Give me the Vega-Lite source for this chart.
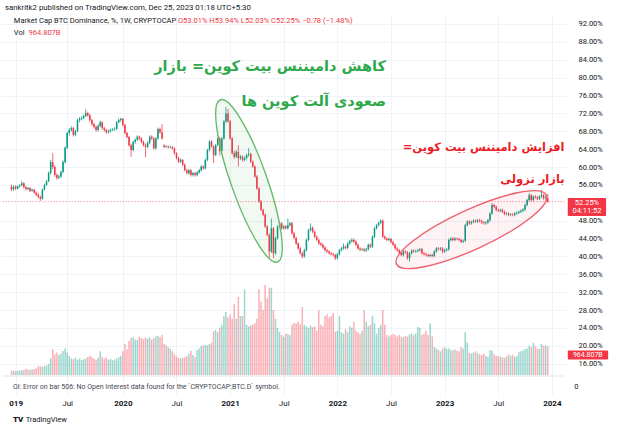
{
"$schema":"https://vega.github.io/schema/vega-lite/v6.json",
"width":566,"height":380,"autosize":"none",
"padding":{"left":0,"top":15,"right":58,"bottom":33},
"background":"white",
"config":{"view":{"stroke":null},"font":"Roboto"},
"title":{"text":"sankritk2 published on TradingView.com, Dec 25, 2023 01:18 UTC+5:30","anchor":"start","frame":"group","fontSize":7.8,"fontWeight":"normal","color":"#131722","offset":3,"dx":5},
"datasets":{"btc":[
{"d":"2018-12-31","o":55.6,"h":56.1,"l":54.6,"c":55.0,"v":150},
{"d":"2019-01-07","o":55.0,"h":55.9,"l":54.7,"c":55.6,"v":140},
{"d":"2019-01-14","o":55.6,"h":55.9,"l":54.9,"c":55.2,"v":130},
{"d":"2019-01-21","o":55.2,"h":55.9,"l":55.0,"c":55.7,"v":140},
{"d":"2019-01-28","o":55.7,"h":56.2,"l":55.4,"c":55.9,"v":150},
{"d":"2019-02-04","o":55.9,"h":56.8,"l":55.7,"c":56.4,"v":160},
{"d":"2019-02-11","o":56.4,"h":56.6,"l":55.2,"c":55.5,"v":170},
{"d":"2019-02-18","o":55.5,"h":55.8,"l":54.7,"c":55.1,"v":210},
{"d":"2019-02-25","o":55.1,"h":55.6,"l":54.8,"c":55.3,"v":180},
{"d":"2019-03-04","o":55.3,"h":55.5,"l":54.4,"c":54.7,"v":170},
{"d":"2019-03-11","o":54.7,"h":55.2,"l":54.5,"c":54.9,"v":190},
{"d":"2019-03-18","o":54.9,"h":55.1,"l":54.0,"c":54.3,"v":200},
{"d":"2019-03-25","o":54.3,"h":54.6,"l":53.5,"c":53.8,"v":230},
{"d":"2019-04-01","o":53.8,"h":54.2,"l":53.0,"c":53.3,"v":300},
{"d":"2019-04-08","o":53.3,"h":53.6,"l":52.4,"c":52.9,"v":290},
{"d":"2019-04-15","o":52.9,"h":55.2,"l":52.7,"c":55.0,"v":280},
{"d":"2019-04-22","o":55.0,"h":56.3,"l":54.8,"c":56.0,"v":300},
{"d":"2019-04-29","o":56.0,"h":57.1,"l":55.8,"c":56.8,"v":330},
{"d":"2019-05-06","o":56.8,"h":59.0,"l":56.6,"c":58.7,"v":380},
{"d":"2019-05-13","o":58.7,"h":61.6,"l":58.3,"c":61.1,"v":560},
{"d":"2019-05-20","o":61.1,"h":63.1,"l":59.5,"c":60.0,"v":880},
{"d":"2019-05-27","o":60.0,"h":60.4,"l":57.8,"c":58.2,"v":700},
{"d":"2019-06-03","o":58.2,"h":58.6,"l":57.2,"c":57.6,"v":760},
{"d":"2019-06-10","o":57.6,"h":58.3,"l":57.3,"c":57.9,"v":680},
{"d":"2019-06-17","o":57.9,"h":59.2,"l":57.6,"c":58.9,"v":720},
{"d":"2019-06-24","o":58.9,"h":61.5,"l":58.6,"c":61.1,"v":810},
{"d":"2019-07-01","o":61.1,"h":64.6,"l":60.8,"c":64.3,"v":900},
{"d":"2019-07-08","o":64.3,"h":67.9,"l":64.0,"c":67.6,"v":760},
{"d":"2019-07-15","o":67.6,"h":68.7,"l":67.0,"c":68.3,"v":640},
{"d":"2019-07-22","o":68.3,"h":69.1,"l":67.9,"c":68.7,"v":560},
{"d":"2019-07-29","o":68.7,"h":69.0,"l":66.8,"c":67.2,"v":540},
{"d":"2019-08-05","o":67.2,"h":68.3,"l":66.9,"c":68.0,"v":590},
{"d":"2019-08-12","o":68.0,"h":70.8,"l":67.8,"c":70.5,"v":520},
{"d":"2019-08-19","o":70.5,"h":71.2,"l":70.0,"c":70.8,"v":560},
{"d":"2019-08-26","o":70.8,"h":71.4,"l":70.4,"c":71.0,"v":510},
{"d":"2019-09-02","o":71.0,"h":71.8,"l":70.7,"c":71.4,"v":530},
{"d":"2019-09-09","o":71.4,"h":72.9,"l":71.2,"c":72.1,"v":560},
{"d":"2019-09-16","o":72.1,"h":72.4,"l":71.2,"c":71.6,"v":610},
{"d":"2019-09-23","o":71.6,"h":71.9,"l":70.1,"c":70.5,"v":650},
{"d":"2019-09-30","o":70.5,"h":70.8,"l":69.2,"c":69.6,"v":600},
{"d":"2019-10-07","o":69.6,"h":69.9,"l":68.6,"c":69.0,"v":560},
{"d":"2019-10-14","o":69.0,"h":69.3,"l":67.9,"c":68.3,"v":520},
{"d":"2019-10-21","o":68.3,"h":69.6,"l":68.0,"c":69.2,"v":580},
{"d":"2019-10-28","o":69.2,"h":70.4,"l":68.9,"c":70.0,"v":800},
{"d":"2019-11-04","o":70.0,"h":70.2,"l":68.4,"c":68.7,"v":620},
{"d":"2019-11-11","o":68.7,"h":69.0,"l":67.9,"c":68.3,"v":560},
{"d":"2019-11-18","o":68.3,"h":68.5,"l":67.4,"c":67.8,"v":590},
{"d":"2019-11-25","o":67.8,"h":68.4,"l":67.5,"c":68.0,"v":520},
{"d":"2019-12-02","o":68.0,"h":68.6,"l":67.7,"c":68.3,"v":540},
{"d":"2019-12-09","o":68.3,"h":68.7,"l":68.0,"c":68.4,"v":500},
{"d":"2019-12-16","o":68.4,"h":68.9,"l":68.1,"c":68.5,"v":520},
{"d":"2019-12-23","o":68.5,"h":70.3,"l":68.3,"c":70.0,"v":560},
{"d":"2019-12-30","o":70.0,"h":70.9,"l":69.8,"c":70.5,"v":600},
{"d":"2020-01-06","o":70.5,"h":71.0,"l":70.1,"c":70.8,"v":650},
{"d":"2020-01-13","o":70.8,"h":71.0,"l":69.1,"c":69.4,"v":800},
{"d":"2020-01-20","o":69.4,"h":69.7,"l":67.3,"c":67.6,"v":1050},
{"d":"2020-01-27","o":67.6,"h":67.9,"l":66.4,"c":66.7,"v":870},
{"d":"2020-02-03","o":66.7,"h":67.0,"l":64.6,"c":64.9,"v":1150},
{"d":"2020-02-10","o":64.9,"h":65.2,"l":62.3,"c":63.8,"v":1250},
{"d":"2020-02-17","o":63.8,"h":65.9,"l":63.5,"c":65.6,"v":1280},
{"d":"2020-02-24","o":65.6,"h":66.4,"l":65.2,"c":66.1,"v":1200},
{"d":"2020-03-02","o":66.1,"h":67.1,"l":65.8,"c":66.8,"v":1180},
{"d":"2020-03-09","o":66.8,"h":67.0,"l":66.0,"c":66.4,"v":1300},
{"d":"2020-03-16","o":66.4,"h":66.7,"l":65.3,"c":65.6,"v":1250},
{"d":"2020-03-23","o":65.6,"h":65.9,"l":64.6,"c":64.9,"v":1210},
{"d":"2020-03-30","o":64.9,"h":65.3,"l":62.2,"c":64.5,"v":1260},
{"d":"2020-04-06","o":64.5,"h":65.8,"l":64.2,"c":65.4,"v":1230},
{"d":"2020-04-13","o":65.4,"h":67.1,"l":65.1,"c":66.8,"v":1280},
{"d":"2020-04-20","o":66.8,"h":67.1,"l":66.0,"c":66.4,"v":1200},
{"d":"2020-04-27","o":66.4,"h":66.7,"l":63.9,"c":64.2,"v":1240},
{"d":"2020-05-04","o":64.2,"h":66.7,"l":63.9,"c":66.4,"v":1310},
{"d":"2020-05-11","o":66.4,"h":68.8,"l":66.1,"c":68.5,"v":1330},
{"d":"2020-05-18","o":68.5,"h":68.8,"l":67.5,"c":67.8,"v":1290},
{"d":"2020-05-25","o":67.8,"h":69.6,"l":66.1,"c":66.4,"v":1350},
{"d":"2020-06-01","o":64.8,"h":65.1,"l":64.2,"c":64.5,"v":1050},
{"d":"2020-06-08","o":64.5,"h":64.9,"l":64.3,"c":64.6,"v":1000},
{"d":"2020-06-15","o":64.6,"h":64.8,"l":64.1,"c":64.4,"v":950},
{"d":"2020-06-22","o":64.4,"h":64.8,"l":64.2,"c":64.5,"v":880},
{"d":"2020-06-29","o":64.5,"h":64.7,"l":63.9,"c":64.2,"v":800},
{"d":"2020-07-06","o":64.2,"h":64.4,"l":62.8,"c":63.1,"v":700},
{"d":"2020-07-13","o":63.1,"h":63.3,"l":61.7,"c":62.0,"v":620},
{"d":"2020-07-20","o":62.0,"h":62.3,"l":60.9,"c":61.2,"v":580},
{"d":"2020-07-27","o":61.2,"h":61.9,"l":60.9,"c":61.6,"v":560},
{"d":"2020-08-03","o":61.6,"h":61.8,"l":60.2,"c":60.5,"v":580},
{"d":"2020-08-10","o":60.5,"h":60.8,"l":59.0,"c":59.3,"v":600},
{"d":"2020-08-17","o":59.3,"h":59.6,"l":58.3,"c":58.6,"v":640},
{"d":"2020-08-24","o":58.6,"h":59.6,"l":58.3,"c":59.3,"v":720},
{"d":"2020-08-31","o":59.3,"h":59.5,"l":57.9,"c":58.2,"v":820},
{"d":"2020-09-07","o":58.2,"h":58.9,"l":57.9,"c":58.6,"v":680},
{"d":"2020-09-14","o":58.6,"h":58.9,"l":57.9,"c":58.2,"v":600},
{"d":"2020-09-21","o":58.2,"h":59.1,"l":57.9,"c":58.8,"v":850},
{"d":"2020-09-28","o":58.8,"h":59.6,"l":58.5,"c":59.3,"v":900},
{"d":"2020-10-05","o":59.3,"h":60.4,"l":59.0,"c":60.1,"v":980},
{"d":"2020-10-12","o":60.1,"h":60.4,"l":59.4,"c":59.7,"v":1000},
{"d":"2020-10-19","o":59.7,"h":61.9,"l":59.4,"c":61.6,"v":1020},
{"d":"2020-10-26","o":61.6,"h":64.1,"l":61.3,"c":63.8,"v":1000},
{"d":"2020-11-02","o":63.8,"h":66.0,"l":63.5,"c":65.7,"v":1050},
{"d":"2020-11-09","o":65.7,"h":66.0,"l":64.3,"c":64.6,"v":1100},
{"d":"2020-11-16","o":64.6,"h":64.9,"l":60.9,"c":62.7,"v":1480},
{"d":"2020-11-23","o":62.7,"h":65.2,"l":62.4,"c":64.9,"v":1520},
{"d":"2020-11-30","o":64.9,"h":66.7,"l":64.6,"c":66.4,"v":1450},
{"d":"2020-12-07","o":66.4,"h":66.7,"l":62.6,"c":63.6,"v":1600},
{"d":"2020-12-14","o":63.6,"h":66.7,"l":63.3,"c":66.4,"v":1700},
{"d":"2020-12-21","o":66.4,"h":70.5,"l":66.1,"c":70.2,"v":2000},
{"d":"2020-12-28","o":70.2,"h":73.5,"l":69.9,"c":72.0,"v":2130},
{"d":"2021-01-04","o":72.0,"h":73.0,"l":69.9,"c":70.2,"v":1950},
{"d":"2021-01-11","o":70.2,"h":70.5,"l":66.1,"c":66.4,"v":2050},
{"d":"2021-01-18","o":66.4,"h":66.7,"l":62.8,"c":63.1,"v":1900},
{"d":"2021-01-25","o":63.1,"h":63.6,"l":61.8,"c":62.3,"v":2400},
{"d":"2021-02-01","o":62.3,"h":63.8,"l":62.0,"c":63.4,"v":1900},
{"d":"2021-02-08","o":63.4,"h":64.9,"l":60.1,"c":62.0,"v":2640},
{"d":"2021-02-15","o":62.0,"h":62.7,"l":61.6,"c":62.3,"v":2000},
{"d":"2021-02-22","o":62.3,"h":62.6,"l":61.2,"c":61.6,"v":2000},
{"d":"2021-03-01","o":61.6,"h":62.4,"l":61.3,"c":62.0,"v":2900},
{"d":"2021-03-08","o":62.0,"h":63.0,"l":61.7,"c":62.7,"v":1700},
{"d":"2021-03-15","o":62.7,"h":64.2,"l":62.3,"c":62.9,"v":1650},
{"d":"2021-03-22","o":62.9,"h":63.2,"l":60.9,"c":61.2,"v":1680},
{"d":"2021-03-29","o":61.2,"h":61.5,"l":59.8,"c":60.1,"v":1700},
{"d":"2021-04-05","o":60.1,"h":60.4,"l":57.6,"c":57.9,"v":1750},
{"d":"2021-04-12","o":57.9,"h":58.2,"l":54.9,"c":55.2,"v":1900},
{"d":"2021-04-19","o":55.2,"h":55.5,"l":52.0,"c":52.3,"v":2900},
{"d":"2021-04-26","o":52.3,"h":52.6,"l":50.1,"c":50.4,"v":2490},
{"d":"2021-05-03","o":50.4,"h":50.7,"l":49.0,"c":49.3,"v":2200},
{"d":"2021-05-10","o":49.3,"h":49.6,"l":46.4,"c":46.7,"v":3050},
{"d":"2021-05-17","o":46.7,"h":47.0,"l":44.5,"c":44.8,"v":2600},
{"d":"2021-05-24","o":44.8,"h":45.1,"l":39.6,"c":41.1,"v":2950},
{"d":"2021-05-31","o":41.1,"h":48.5,"l":40.8,"c":46.3,"v":2950},
{"d":"2021-06-07","o":46.3,"h":46.6,"l":39.6,"c":40.7,"v":2200},
{"d":"2021-06-14","o":40.7,"h":44.4,"l":40.4,"c":44.1,"v":1900},
{"d":"2021-06-21","o":44.1,"h":47.0,"l":43.8,"c":46.7,"v":1600},
{"d":"2021-06-28","o":46.7,"h":47.7,"l":46.4,"c":47.4,"v":1450},
{"d":"2021-07-05","o":47.4,"h":47.7,"l":46.0,"c":46.3,"v":1350},
{"d":"2021-07-12","o":46.3,"h":47.0,"l":46.0,"c":46.7,"v":1300},
{"d":"2021-07-19","o":46.7,"h":47.0,"l":46.0,"c":46.3,"v":1400},
{"d":"2021-07-26","o":46.3,"h":48.5,"l":46.0,"c":47.0,"v":1380},
{"d":"2021-08-02","o":47.0,"h":47.7,"l":46.7,"c":47.4,"v":1350},
{"d":"2021-08-09","o":47.4,"h":47.7,"l":44.9,"c":45.2,"v":1700},
{"d":"2021-08-16","o":45.2,"h":45.5,"l":43.8,"c":44.1,"v":1760},
{"d":"2021-08-23","o":44.1,"h":44.4,"l":42.6,"c":42.9,"v":1750},
{"d":"2021-08-30","o":42.9,"h":43.2,"l":41.5,"c":41.8,"v":1800},
{"d":"2021-09-06","o":41.8,"h":42.1,"l":40.4,"c":40.7,"v":1720},
{"d":"2021-09-13","o":40.7,"h":41.0,"l":39.6,"c":40.0,"v":2300},
{"d":"2021-09-20","o":40.0,"h":41.7,"l":39.7,"c":41.4,"v":1700},
{"d":"2021-09-27","o":41.4,"h":44.0,"l":41.1,"c":43.7,"v":1650},
{"d":"2021-10-04","o":43.7,"h":46.2,"l":43.4,"c":45.9,"v":1600},
{"d":"2021-10-11","o":45.9,"h":47.4,"l":45.6,"c":46.4,"v":1680},
{"d":"2021-10-18","o":46.4,"h":46.7,"l":45.2,"c":45.5,"v":1620},
{"d":"2021-10-25","o":45.5,"h":45.8,"l":44.1,"c":44.4,"v":1650},
{"d":"2021-11-01","o":44.4,"h":44.7,"l":43.4,"c":43.7,"v":1500},
{"d":"2021-11-08","o":43.7,"h":44.0,"l":42.6,"c":42.9,"v":2190},
{"d":"2021-11-15","o":42.9,"h":43.2,"l":42.3,"c":42.6,"v":1700},
{"d":"2021-11-22","o":42.6,"h":42.9,"l":41.7,"c":42.0,"v":1650},
{"d":"2021-11-29","o":42.0,"h":42.3,"l":41.1,"c":41.4,"v":2000},
{"d":"2021-12-06","o":41.4,"h":41.7,"l":40.8,"c":41.1,"v":2050},
{"d":"2021-12-13","o":41.1,"h":41.4,"l":40.4,"c":40.7,"v":1950},
{"d":"2021-12-20","o":40.7,"h":41.0,"l":40.2,"c":40.5,"v":2000},
{"d":"2021-12-27","o":40.5,"h":40.8,"l":40.0,"c":40.3,"v":2100},
{"d":"2022-01-03","o":40.3,"h":40.6,"l":39.2,"c":39.6,"v":1470},
{"d":"2022-01-10","o":39.6,"h":40.8,"l":39.3,"c":40.5,"v":1500},
{"d":"2022-01-17","o":40.5,"h":41.7,"l":40.2,"c":41.4,"v":2000},
{"d":"2022-01-24","o":41.4,"h":42.1,"l":41.1,"c":41.8,"v":1450},
{"d":"2022-01-31","o":41.8,"h":42.9,"l":41.5,"c":42.2,"v":1400},
{"d":"2022-02-07","o":42.2,"h":42.5,"l":41.6,"c":41.9,"v":1550},
{"d":"2022-02-14","o":41.9,"h":43.2,"l":41.6,"c":42.9,"v":1450},
{"d":"2022-02-21","o":42.9,"h":43.7,"l":42.6,"c":43.4,"v":1650},
{"d":"2022-02-28","o":43.4,"h":44.1,"l":43.1,"c":43.7,"v":1600},
{"d":"2022-03-07","o":43.7,"h":44.0,"l":43.0,"c":43.3,"v":1800},
{"d":"2022-03-14","o":43.3,"h":43.6,"l":42.3,"c":42.6,"v":1500},
{"d":"2022-03-21","o":42.6,"h":42.9,"l":41.5,"c":41.8,"v":1450},
{"d":"2022-03-28","o":41.8,"h":42.1,"l":41.2,"c":41.5,"v":1400},
{"d":"2022-04-04","o":41.5,"h":41.9,"l":41.2,"c":41.6,"v":1500},
{"d":"2022-04-11","o":41.6,"h":41.9,"l":41.0,"c":41.3,"v":2190},
{"d":"2022-04-18","o":41.3,"h":41.9,"l":41.0,"c":41.6,"v":1800},
{"d":"2022-04-25","o":41.6,"h":42.9,"l":41.3,"c":42.6,"v":1650},
{"d":"2022-05-02","o":42.6,"h":42.9,"l":41.9,"c":42.2,"v":1700},
{"d":"2022-05-09","o":42.2,"h":44.7,"l":41.9,"c":44.4,"v":2000},
{"d":"2022-05-16","o":44.4,"h":46.6,"l":44.1,"c":46.3,"v":1750},
{"d":"2022-05-23","o":46.3,"h":47.3,"l":46.0,"c":47.0,"v":1400},
{"d":"2022-05-30","o":47.0,"h":47.8,"l":46.7,"c":47.5,"v":1600},
{"d":"2022-06-06","o":47.5,"h":48.3,"l":47.2,"c":48.0,"v":1700},
{"d":"2022-06-13","o":48.0,"h":48.3,"l":44.1,"c":44.4,"v":2200},
{"d":"2022-06-20","o":44.4,"h":44.7,"l":43.7,"c":44.0,"v":1700},
{"d":"2022-06-27","o":44.0,"h":44.3,"l":43.4,"c":43.7,"v":1350},
{"d":"2022-07-04","o":43.7,"h":44.2,"l":43.4,"c":43.9,"v":1300},
{"d":"2022-07-11","o":43.9,"h":44.2,"l":42.9,"c":43.2,"v":1350},
{"d":"2022-07-18","o":43.2,"h":43.5,"l":42.3,"c":42.6,"v":1400},
{"d":"2022-07-25","o":42.6,"h":42.9,"l":41.5,"c":41.8,"v":1350},
{"d":"2022-08-01","o":41.8,"h":42.1,"l":41.1,"c":41.4,"v":1300},
{"d":"2022-08-08","o":41.4,"h":41.7,"l":40.5,"c":40.8,"v":1350},
{"d":"2022-08-15","o":40.8,"h":41.1,"l":40.0,"c":40.3,"v":1300},
{"d":"2022-08-22","o":40.3,"h":41.4,"l":40.0,"c":41.1,"v":1280},
{"d":"2022-08-29","o":41.1,"h":41.4,"l":40.6,"c":40.9,"v":1320},
{"d":"2022-09-05","o":40.9,"h":41.2,"l":39.3,"c":39.6,"v":1300},
{"d":"2022-09-12","o":39.6,"h":41.0,"l":38.8,"c":40.7,"v":1380},
{"d":"2022-09-19","o":40.7,"h":41.6,"l":40.4,"c":41.3,"v":1400},
{"d":"2022-09-26","o":41.3,"h":41.6,"l":40.8,"c":41.1,"v":1350},
{"d":"2022-10-03","o":41.1,"h":41.5,"l":40.8,"c":41.2,"v":1400},
{"d":"2022-10-10","o":41.2,"h":41.7,"l":40.9,"c":41.4,"v":1625},
{"d":"2022-10-17","o":41.4,"h":41.9,"l":41.1,"c":41.6,"v":1600},
{"d":"2022-10-24","o":41.6,"h":41.9,"l":40.4,"c":40.7,"v":1350},
{"d":"2022-10-31","o":40.7,"h":41.0,"l":40.2,"c":40.5,"v":1400},
{"d":"2022-11-07","o":40.5,"h":40.8,"l":40.0,"c":40.3,"v":1500},
{"d":"2022-11-14","o":40.3,"h":40.6,"l":39.8,"c":40.1,"v":1350},
{"d":"2022-11-21","o":40.1,"h":40.6,"l":39.8,"c":40.3,"v":1750},
{"d":"2022-11-28","o":40.3,"h":40.6,"l":39.8,"c":40.1,"v":1300},
{"d":"2022-12-05","o":40.1,"h":41.4,"l":39.8,"c":41.1,"v":950},
{"d":"2022-12-12","o":41.1,"h":42.1,"l":40.8,"c":41.8,"v":900},
{"d":"2022-12-19","o":41.8,"h":42.1,"l":41.3,"c":41.6,"v":850},
{"d":"2022-12-26","o":41.6,"h":42.1,"l":41.3,"c":41.8,"v":800},
{"d":"2023-01-02","o":41.8,"h":42.1,"l":40.7,"c":41.1,"v":900},
{"d":"2023-01-09","o":41.1,"h":41.7,"l":40.8,"c":41.4,"v":950},
{"d":"2023-01-16","o":41.4,"h":41.9,"l":41.1,"c":41.6,"v":880},
{"d":"2023-01-23","o":41.6,"h":44.0,"l":41.3,"c":43.7,"v":900},
{"d":"2023-01-30","o":43.7,"h":44.3,"l":43.4,"c":44.0,"v":850},
{"d":"2023-02-06","o":44.0,"h":44.3,"l":43.4,"c":43.7,"v":830},
{"d":"2023-02-13","o":43.7,"h":44.3,"l":43.4,"c":44.0,"v":860},
{"d":"2023-02-20","o":44.0,"h":44.2,"l":43.6,"c":43.9,"v":820},
{"d":"2023-02-27","o":43.9,"h":44.2,"l":43.4,"c":43.7,"v":800},
{"d":"2023-03-06","o":43.7,"h":44.0,"l":43.0,"c":43.3,"v":950},
{"d":"2023-03-13","o":43.3,"h":43.8,"l":43.0,"c":43.5,"v":900},
{"d":"2023-03-20","o":43.5,"h":47.3,"l":43.2,"c":47.0,"v":1450},
{"d":"2023-03-27","o":47.0,"h":48.1,"l":46.7,"c":47.8,"v":1100},
{"d":"2023-04-03","o":47.8,"h":48.1,"l":47.1,"c":47.4,"v":750},
{"d":"2023-04-10","o":47.4,"h":48.0,"l":47.1,"c":47.7,"v":720},
{"d":"2023-04-17","o":47.7,"h":48.3,"l":47.4,"c":48.0,"v":760},
{"d":"2023-04-24","o":48.0,"h":48.3,"l":47.5,"c":47.8,"v":800},
{"d":"2023-05-01","o":47.8,"h":48.4,"l":47.5,"c":48.1,"v":740},
{"d":"2023-05-08","o":48.1,"h":48.4,"l":47.6,"c":47.9,"v":700},
{"d":"2023-05-15","o":47.9,"h":48.2,"l":47.3,"c":47.6,"v":680},
{"d":"2023-05-22","o":47.6,"h":47.9,"l":47.1,"c":47.4,"v":720},
{"d":"2023-05-29","o":47.4,"h":47.9,"l":47.1,"c":47.6,"v":650},
{"d":"2023-06-05","o":47.6,"h":48.4,"l":47.3,"c":48.1,"v":620},
{"d":"2023-06-12","o":48.1,"h":49.9,"l":47.8,"c":49.6,"v":850},
{"d":"2023-06-19","o":49.6,"h":51.9,"l":49.3,"c":51.5,"v":820},
{"d":"2023-06-26","o":51.5,"h":51.8,"l":50.8,"c":51.1,"v":700},
{"d":"2023-07-03","o":51.1,"h":51.4,"l":50.1,"c":50.4,"v":650},
{"d":"2023-07-10","o":50.4,"h":50.7,"l":49.9,"c":50.2,"v":640},
{"d":"2023-07-17","o":50.2,"h":50.7,"l":49.9,"c":50.4,"v":620},
{"d":"2023-07-24","o":50.4,"h":50.7,"l":49.7,"c":50.0,"v":600},
{"d":"2023-07-31","o":50.0,"h":50.3,"l":49.2,"c":49.5,"v":580},
{"d":"2023-08-07","o":49.5,"h":49.9,"l":49.2,"c":49.6,"v":620},
{"d":"2023-08-14","o":49.6,"h":49.9,"l":49.0,"c":49.3,"v":700},
{"d":"2023-08-21","o":49.3,"h":49.7,"l":49.0,"c":49.4,"v":650},
{"d":"2023-08-28","o":49.4,"h":49.7,"l":49.0,"c":49.3,"v":680},
{"d":"2023-09-04","o":49.3,"h":49.9,"l":49.0,"c":49.6,"v":620},
{"d":"2023-09-11","o":49.6,"h":50.1,"l":49.3,"c":49.8,"v":640},
{"d":"2023-09-18","o":49.8,"h":50.3,"l":49.5,"c":50.0,"v":780},
{"d":"2023-09-25","o":50.0,"h":50.5,"l":49.7,"c":50.2,"v":800},
{"d":"2023-10-02","o":50.2,"h":50.8,"l":49.9,"c":50.5,"v":830},
{"d":"2023-10-09","o":50.5,"h":51.8,"l":50.2,"c":51.5,"v":880},
{"d":"2023-10-16","o":51.5,"h":52.9,"l":51.2,"c":52.6,"v":900},
{"d":"2023-10-23","o":52.6,"h":54.2,"l":52.3,"c":53.7,"v":1000},
{"d":"2023-10-30","o":53.7,"h":54.0,"l":52.3,"c":52.6,"v":950},
{"d":"2023-11-06","o":52.6,"h":53.7,"l":52.3,"c":53.4,"v":1100},
{"d":"2023-11-13","o":53.4,"h":53.7,"l":52.9,"c":53.2,"v":970},
{"d":"2023-11-20","o":53.2,"h":53.5,"l":52.6,"c":52.9,"v":900},
{"d":"2023-11-27","o":52.9,"h":53.7,"l":52.6,"c":53.4,"v":880},
{"d":"2023-12-04","o":53.4,"h":54.9,"l":53.1,"c":53.7,"v":1050},
{"d":"2023-12-11","o":53.7,"h":54.0,"l":52.7,"c":53.0,"v":990},
{"d":"2023-12-18","o":53.0,"h":53.6,"l":52.7,"c":53.03,"v":1000},
{"d":"2023-12-25","o":53.01,"h":53.94,"l":52.03,"c":52.25,"v":964.807}
]},
"layer":[
{"data":{"name":"btc"},
 "mark":{"type":"bar","size":1.5,"opacity":0.4},
 "encoding":{
  "x":{"field":"d","type":"temporal","scale":{"domain":[{"year":2018,"month":12,"date":9},{"year":2024,"month":2,"date":8}]},
    "axis":{"values":[{"year":2019,"month":1,"date":14},{"year":2019,"month":7,"date":8},{"year":2020,"month":1,"date":13},{"year":2020,"month":7,"date":13},{"year":2021,"month":1,"date":11},{"year":2021,"month":7,"date":12},{"year":2022,"month":1,"date":10},{"year":2022,"month":7,"date":11},{"year":2023,"month":1,"date":9},{"year":2023,"month":7,"date":10},{"year":2024,"month":1,"date":8}],
      "labelExpr":"year(datum.value)==2019 && month(datum.value)==0 ? '019' : month(datum.value)==0 ? timeFormat(datum.value,'%Y') : timeFormat(datum.value,'%b')",
      "labelFontWeight":{"condition":{"test":"month(datum.value)==0","value":"bold"},"value":"normal"},
      "labelFontSize":8,"labelColor":"#131722","labelPadding":4,"ticks":false,"domain":false,"grid":true,"gridColor":"#f0f3fa","labelOverlap":false,"labelBound":false,"labelFlush":false,"title":null}},
  "y":{"field":"v","type":"quantitative","scale":{"domain":[-677,12186],"nice":false,"zero":false},"axis":null},
  "color":{"condition":{"test":"datum.c >= datum.o","value":"#089981"},"value":"#f23645"}}},
{"encoding":{
  "x":{"field":"d","type":"temporal","scale":{"domain":[{"year":2018,"month":12,"date":9},{"year":2024,"month":2,"date":8}]},
    "axis":{"values":[{"year":2019,"month":1,"date":14},{"year":2019,"month":7,"date":8},{"year":2020,"month":1,"date":13},{"year":2020,"month":7,"date":13},{"year":2021,"month":1,"date":11},{"year":2021,"month":7,"date":12},{"year":2022,"month":1,"date":10},{"year":2022,"month":7,"date":11},{"year":2023,"month":1,"date":9},{"year":2023,"month":7,"date":10},{"year":2024,"month":1,"date":8}],
      "labelExpr":"year(datum.value)==2019 && month(datum.value)==0 ? '019' : month(datum.value)==0 ? timeFormat(datum.value,'%Y') : timeFormat(datum.value,'%b')",
      "labelFontWeight":{"condition":{"test":"month(datum.value)==0","value":"bold"},"value":"normal"},
      "labelFontSize":8,"labelColor":"#131722","labelPadding":4,"ticks":false,"domain":false,"grid":true,"gridColor":"#f0f3fa","labelOverlap":false,"labelBound":false,"labelFlush":false,"title":null}},
  "y":{"field":"p","type":"quantitative","scale":{"domain":[9.0,94.013],"nice":false,"zero":false},
    "axis":{"orient":"right","values":[16,20,24,28,32,36,40,44,48,56,60,64,68,72,76,80,84,88,92],"labelExpr":"format(datum.value,'.2f')+'%'","labelAlign":"left","labelPadding":12,"labelFontSize":7.5,"labelColor":"#131722","ticks":false,"domain":false,"grid":true,"gridColor":"#f0f3fa","title":null}}},
 "layer":[
 {"data":{"values":[{"d":"2018-12-01","d2":"2024-02-20","p":13.25}]},"mark":{"type":"rule","color":"#e0e3eb","strokeWidth":1,"clip":true},
  "encoding":{"x2":{"field":"d2"}}},
 {"data":{"name":"btc"},"mark":{"type":"rule","strokeWidth":1,"opacity":0.75},
  "encoding":{
   "y":{"field":"l","type":"quantitative","scale":{"domain":[9.0,94.013],"nice":false,"zero":false},
    "axis":{"orient":"right","values":[16,20,24,28,32,36,40,44,48,56,60,64,68,72,76,80,84,88,92],"labelExpr":"format(datum.value,'.2f')+'%'","labelAlign":"left","labelPadding":12,"labelFontSize":7.5,"labelColor":"#131722","ticks":false,"domain":false,"grid":true,"gridColor":"#f0f3fa","title":null}},
   "y2":{"field":"h"},
   "color":{"condition":{"test":"datum.c >= datum.o","value":"#089981"},"value":"#f23645"}}},
 {"data":{"name":"btc"},"mark":{"type":"bar","size":1.5},
  "encoding":{
   "y":{"field":"o","type":"quantitative","scale":{"domain":[9.0,94.013],"nice":false,"zero":false},
    "axis":{"orient":"right","values":[16,20,24,28,32,36,40,44,48,56,60,64,68,72,76,80,84,88,92],"labelExpr":"format(datum.value,'.2f')+'%'","labelAlign":"left","labelPadding":12,"labelFontSize":7.5,"labelColor":"#131722","ticks":false,"domain":false,"grid":true,"gridColor":"#f0f3fa","title":null}},
   "y2":{"field":"c"},
   "color":{"condition":{"test":"datum.c >= datum.o","value":"#089981"},"value":"#f23645"}}},
 {"data":{"values":[{"d":"2018-12-01","d2":"2024-02-20","p":52.25}]},"mark":{"type":"rule","color":"#f23645","strokeDash":[1,2],"strokeWidth":1,"opacity":0.7,"clip":true},
  "encoding":{"x2":{"field":"d2"}}},
 {"data":{"values":[{"d":"2021-03-16","p":56.9}]},
  "mark":{"type":"point","shape":"M0,-1C0.116,-1 0.21,-0.552 0.21,0C0.21,0.552 0.116,1 0,1C-0.116,1 -0.21,0.552 -0.21,0C-0.21,-0.552 -0.116,-1 0,-1Z","size":29584,"angle":340.6,"filled":true,"fill":"#4caf50","fillOpacity":0.07,"stroke":"#66bb6a","strokeWidth":1.4,"strokeOpacity":1,"opacity":1}},
 {"data":{"values":[{"d":"2023-04-10","p":46.0}]},
  "mark":{"type":"point","shape":"M0,-1C0.133,-1 0.24,-0.552 0.24,0C0.24,0.552 0.133,1 0,1C-0.133,1 -0.24,0.552 -0.24,0C-0.24,-0.552 -0.133,-1 0,-1Z","size":27225,"angle":65.3,"filled":true,"fill":"#f23645","fillOpacity":0.06,"stroke":"#f06070","strokeWidth":1.4,"strokeOpacity":1,"opacity":1}},
 {"data":{"values":[{"d":"2024-03-02","d2":"2024-07-10","p":53.1,"p2":49.05},{"d":"2024-03-02","d2":"2024-07-17","p":18.96,"p2":16.95}]},
  "mark":{"type":"bar","color":"#f23645","cornerRadius":1},
  "encoding":{"x2":{"field":"d2"},"y2":{"field":"p2"}}},
 {"data":{"values":[{"d":"2024-05-06","p":51.96,"t":"52.25%"},{"d":"2024-05-06","p":50.06,"t":"04:11:52"}]},
  "mark":{"type":"text","align":"center","baseline":"middle","fontSize":7.5,"color":"white"},
  "encoding":{"text":{"field":"t"}}},
 {"data":{"values":[{"d":"2024-05-09","p":17.95,"t":"964.807B"}]},
  "mark":{"type":"text","align":"center","baseline":"middle","fontSize":7,"color":"white"},
  "encoding":{"text":{"field":"t"}}},
 {"data":{"values":[{"d":"2019-01-08","p":92.67,"t":"Market Cap BTC Dominance, %, 1W, CRYPTOCAP"},{"d":"2019-01-08","p":90.0,"t":"Vol"},{"d":"2024-03-24","p":10.8,"t":"0"},{"d":"2019-02-17","p":3.41,"t":"TradingView"}]},
  "mark":{"type":"text","align":"left","baseline":"middle","fontSize":7.5,"color":"#131722"},
  "encoding":{"text":{"field":"t"}}},
 {"data":{"values":[{"d":"2019-01-05","p":3.41,"t":"TV"}]},
  "mark":{"type":"text","align":"left","baseline":"middle","fontSize":8,"fontWeight":900,"color":"#131722"},
  "encoding":{"text":{"field":"t"}}},
 {"data":{"values":[{"d":"2020-07-18","p":92.67,"t":"O53.01%  H53.94%  L52.03%  C52.25%  −0.78 (−1.48%)"},{"d":"2019-02-27","p":90.0,"t":"964.807B"}]},
  "mark":{"type":"text","align":"left","baseline":"middle","fontSize":7.5,"color":"#f23645"},
  "encoding":{"text":{"field":"t"}}},
 {"data":{"values":[{"d":"2019-01-05","p":10.8,"t":"OI: Error on bar 506: No Open Interest data found for the `CRYPTOCAP:BTC.D` symbol."}]},
  "mark":{"type":"text","align":"left","baseline":"middle","fontSize":7,"color":"#434651"},
  "encoding":{"text":{"field":"t"}}},
 {"data":{"values":[{"d":"2022-06-24","p":82.4,"t":"کاهش دامیننس بیت کوین= بازار"},{"d":"2022-06-24","p":74.55,"t":"صعودی آلت کوین ها"}]},
  "mark":{"type":"text","align":"right","baseline":"middle","fontSize":14.5,"fontWeight":"bold","font":"DejaVu Sans","color":"#2ea84a"},
  "encoding":{"text":{"field":"t"}}},
 {"data":{"values":[{"d":"2024-02-20","p":64.26,"t":"افزایش دامیننس بیت کوین=\u200f"},{"d":"2024-02-20","p":57.1,"t":"بازار نزولی"}]},
  "mark":{"type":"text","align":"right","baseline":"middle","fontSize":11.5,"fontWeight":"bold","font":"DejaVu Sans","color":"#ed1c24"},
  "encoding":{"text":{"field":"t"}}}
 ]}
],
"resolve":{"scale":{"y":"independent"}}
}
